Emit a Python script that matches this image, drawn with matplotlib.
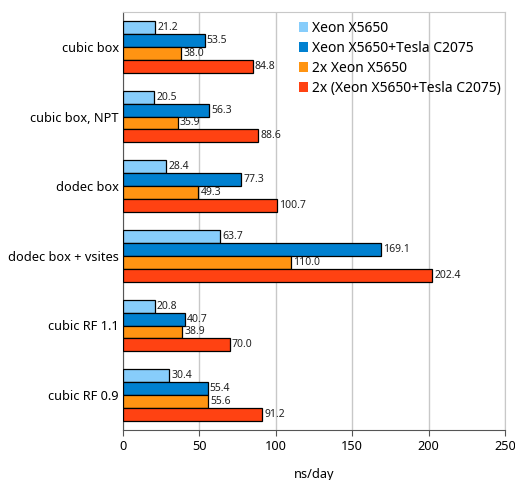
import matplotlib
matplotlib.use("Agg")
import matplotlib.pyplot as plt
import numpy as np

categories = ["cubic box", "cubic box, NPT", "dodec box", "dodec box + vsites", "cubic RF 1.1", "cubic RF 0.9"]
series_names = ["Xeon X5650", "Xeon X5650+Tesla C2075", "2x Xeon X5650", "2x (Xeon X5650+Tesla C2075)"]
xeon = [21.2, 20.5, 28.4, 63.7, 20.8, 30.4]
xeon_tesla = [53.5, 56.3, 77.3, 169.1, 40.7, 55.4]
xeon2 = [38.0, 35.9, 49.3, 110.0, 38.9, 55.6]
xeon2_tesla = [84.8, 88.6, 100.7, 202.4, 70.0, 91.2]
series = [xeon, xeon_tesla, xeon2, xeon2_tesla]
colors = ["#87cdfb", "#0080d0", "#ff9412", "#ff4212"]

plt.rcParams['font.family'] = ['Noto Sans', 'DejaVu Sans']
fig = plt.figure(figsize=(5.15, 4.8), dpi=100)
ax = fig.add_axes([123/515, 50/480, 382/515, 418/480])

h = 0.185
y = np.arange(len(categories))
for i, (vals, c, name) in enumerate(zip(series, colors, series_names)):
    pos = y + (i - 1.5) * h
    ax.barh(pos, vals, height=h, color=c, edgecolor="black", linewidth=0.9, label=name, zorder=3)
    for p, v in zip(pos, vals):
        ax.text(v + 1.3, p, f"{v:.1f}", va="center", ha="left", fontsize=7.5, color="#222222", zorder=4)

ax.set_xlim(0, 250)
ax.set_ylim(5.5, -0.5)
ax.set_yticks(y)
ax.set_yticklabels(categories, fontsize=9.2)
ax.set_xticks([0, 50, 100, 150, 200, 250])
ax.tick_params(axis='x', labelsize=9.2, direction='out', length=4.3, color="#555555", pad=3)
ax.tick_params(axis='y', length=0, pad=3)
ax.xaxis.grid(True, color="#c8c8c8", linewidth=1.0, zorder=0)
ax.set_xlabel("ns/day", fontsize=9.2, labelpad=11)
for s in ["top", "right"]:
    ax.spines[s].set_color("#c8c8c8")
ax.spines["left"].set_color("#555555")
ax.spines["bottom"].set_color("#555555")

leg = ax.legend(loc="upper right", bbox_to_anchor=(1.0, 0.988), frameon=False, fontsize=10,
                handlelength=0.7, handleheight=0.7, handletextpad=0.25, labelspacing=0.35,
                borderaxespad=0.0, borderpad=0.3)
for hnd in leg.legend_handles:
    hnd.set_edgecolor("none")

fig.savefig("out.png", dpi=100)
